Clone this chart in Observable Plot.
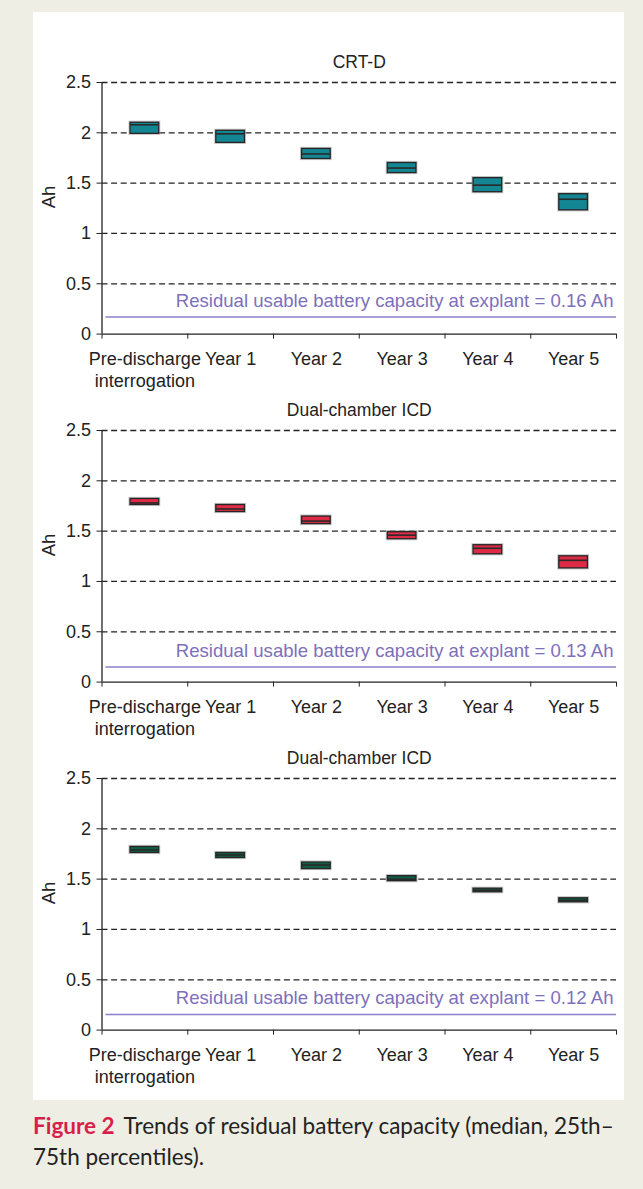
<!DOCTYPE html>
<html>
<head>
<meta charset="utf-8">
<script src="https://cdn.jsdelivr.net/npm/d3@7"></script>
<script src="https://cdn.jsdelivr.net/npm/@observablehq/plot@0.6"></script>
<style>
  html, body { margin: 0; padding: 0; }
  body { width: 643px; height: 1189px; background: #efeee4; position: relative; overflow: hidden; }
  #panel { position: absolute; left: 33px; top: 12px; width: 591px; height: 1088px; background: #fff; }
  .chart { position: absolute; left: 0; }
  #caption { position: absolute; left: 33px; top: 1110px; width: 605px; font-family: Lato, "Open Sans", sans-serif; font-size: 22.5px; line-height: 31px; color: #222; }
  #caption b { color: #d81f4a; font-weight: 700; margin-right: 9px; }
</style>
</head>
<body>
<div id="panel"></div>
<div id="caption"><b>Figure 2</b>Trends of residual battery capacity (median, 25th–<br>75th percentiles).</div>
<script>
// ---- data ----
const categories = ["Pre-discharge\ninterrogation", "Year 1", "Year 2", "Year 3", "Year 4", "Year 5"];
const panelTitles = ["CRT-D", "Dual-chamber ICD", "Dual-chamber ICD"];
const yTicks = [0, 0.5, 1, 1.5, 2, 2.5];

const crtQ1     = [1.99, 1.90, 1.74, 1.60, 1.41, 1.23];
const crtMedian = [2.08, 1.99, 1.79, 1.65, 1.48, 1.34];
const crtQ3     = [2.10, 2.02, 1.84, 1.70, 1.55, 1.39];

const icdAQ1     = [1.76, 1.69, 1.57, 1.42, 1.27, 1.13];
const icdAMedian = [1.78, 1.72, 1.60, 1.46, 1.33, 1.21];
const icdAQ3     = [1.82, 1.76, 1.645, 1.49, 1.36, 1.25];

const icdBQ1     = [1.76, 1.71, 1.60, 1.48, 1.37, 1.27];
const icdBMedian = [1.79, 1.74, 1.64, 1.50, 1.39, 1.29];
const icdBQ3     = [1.82, 1.76, 1.665, 1.53, 1.405, 1.31];

const residualCapacity = [0.16, 0.13, 0.12];     // value in the label
const residualLineLevel = [0.17, 0.15, 0.155];   // level at which the line is drawn
const boxColors = ["#138693", "#df2a45", "#0f5e46"];

// ---- build ----
const series = [
  [crtQ1, crtMedian, crtQ3],
  [icdAQ1, icdAMedian, icdAQ3],
  [icdBQ1, icdBMedian, icdBQ3]
];
const panelTops = [29.7, 377.7, 725.7];
const half = 0.167;
const font = "'Liberation Sans', Arial, sans-serif";

series.forEach(([q1, med, q3], p) => {
  const rows = categories.map((c, i) => ({i, cat: c, q1: q1[i], med: med[i], q3: q3[i]}));
  const chart = Plot.plot({
    width: 591,
    height: 348,
    marginLeft: 68.5,
    marginRight: 8,
    marginTop: 40,
    marginBottom: 56.4,
    style: {fontFamily: font, fontSize: "18px", color: "#222", background: "transparent", overflow: "visible"},
    x: {domain: [0, categories.length], axis: null},
    y: {domain: [0, 2.5], axis: null},
    marks: [
      Plot.ruleY(yTicks.filter(d => d > 0), {stroke: "#222", strokeWidth: 1.3, strokeDasharray: "6,3.6"}),
      Plot.ruleY([residualLineLevel[p]], {stroke: "#8b7fcb", strokeWidth: 1.4, insetLeft: 4}),
      Plot.text([`Residual usable battery capacity at explant = ${residualCapacity[p].toFixed(2)} Ah`], {
        frameAnchor: "right", y: () => residualLineLevel[p], textAnchor: "end", dx: -3, dy: -16,
        fill: "#7d70bb", fontSize: 18.6
      }),
      Plot.rect(rows, {x1: d => d.i + 0.5 - half, x2: d => d.i + 0.5 + half, y1: "q1", y2: "q3",
        fill: "none", stroke: "#9a9a9a", strokeWidth: 3.2, strokeOpacity: 0.55}),
      Plot.rect(rows, {x1: d => d.i + 0.5 - half, x2: d => d.i + 0.5 + half, y1: "q1", y2: "q3",
        fill: boxColors[p], stroke: "#262626", strokeWidth: 1.3}),
      Plot.ruleY(rows, {x1: d => d.i + 0.5 - half, x2: d => d.i + 0.5 + half, y: "med",
        stroke: "#2a2a2a", strokeWidth: 1.6}),
      Plot.ruleX([0], {y1: 0, y2: 2.5, stroke: "#222", strokeWidth: 1.3}),
      Plot.ruleY([0], {stroke: "#222", strokeWidth: 1.3}),
      Plot.axisY({ticks: yTicks, tickSize: 5, tickPadding: 6, tickFormat: d => String(d), label: null, fontSize: 18}),
      Plot.axisX({ticks: d3.range(categories.length + 1), tickSize: 5, tickFormat: () => "", label: null}),
      Plot.text(rows, {x: d => d.i + 0.5, y: () => 0, text: "cat", lineAnchor: "top", dy: 15, lineHeight: 1.22, fontSize: 18}),
      Plot.text([panelTitles[p]], {frameAnchor: "top", dy: -20, lineAnchor: "middle", fontSize: 17.5}),
      Plot.text(["Ah"], {frameAnchor: "left", rotate: -90, dx: -53, fontSize: 18.5})
    ]
  });
  chart.classList.add("chart");
  chart.style.top = panelTops[p] + "px";
  document.getElementById("panel").appendChild(chart);
});
</script>
</body>
</html>
